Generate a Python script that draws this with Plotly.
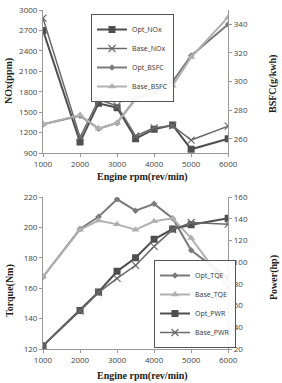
import plotly.graph_objects as go
from plotly.subplots import make_subplots

rpm = [1000, 2000, 2500, 3000, 3500, 4000, 4500, 5000, 6000]

opt_nox = [2700, 1060, 1630, 1565, 1110, 1250, 1310, 955, 1110]
base_nox = [2880, 1130, 1680, 1595, 1150, 1270, 1300, 1090, 1295]
opt_bsfc = [270, 276, 267, 271, 288, 292.5, 300, 318, 340]
base_bsfc = [270, 276.5, 267, 271, 287.5, 292, 297, 317, 345]

opt_tqe = [167.5, 199, 207, 218.5, 211, 215.5, 206, 185, 166.5]
base_tqe = [167.5, 198.5, 204.5, 202, 198.5, 204, 206, 193, 160]
opt_pwr = [23, 55.5, 72.5, 91.5, 104, 121, 130.5, 134.5, 140.5]
base_pwr = [23, 55, 72, 85, 97, 114.5, 130, 136.5, 135]

x_ticks = [1000, 2000, 3000, 4000, 5000, 6000]

fig = make_subplots(rows=2, cols=1, specs=[[{"secondary_y": True}], [{"secondary_y": True}]],
                    vertical_spacing=0.1)

c1, c2, c3, c4 = "#4f4f4f", "#6a6a6a", "#7a7a7a", "#b0b0b0"

fig.add_trace(go.Scatter(x=rpm, y=opt_nox, name="Opt_NOx", mode="lines+markers",
                         line=dict(color=c1, width=2), marker=dict(symbol="square", size=7, color=c1),
                         legend="legend"), row=1, col=1, secondary_y=False)
fig.add_trace(go.Scatter(x=rpm, y=base_nox, name="Base_NOx", mode="lines+markers",
                         line=dict(color=c2, width=1.5),
                         marker=dict(symbol="x-thin-open", size=7, line=dict(color=c2, width=1.2)),
                         legend="legend"), row=1, col=1, secondary_y=False)
fig.add_trace(go.Scatter(x=rpm, y=opt_bsfc, name="Opt_BSFC", mode="lines+markers",
                         line=dict(color=c3, width=2), marker=dict(symbol="diamond", size=5, color=c3),
                         legend="legend"), row=1, col=1, secondary_y=True)
fig.add_trace(go.Scatter(x=rpm, y=base_bsfc, name="Base_BSFC", mode="lines+markers",
                         line=dict(color=c4, width=2), marker=dict(symbol="triangle-up", size=7, color=c4),
                         legend="legend"), row=1, col=1, secondary_y=True)

fig.add_trace(go.Scatter(x=rpm, y=opt_tqe, name="Opt_TQE", mode="lines+markers",
                         line=dict(color=c3, width=2), marker=dict(symbol="diamond", size=5, color=c3),
                         legend="legend2"), row=2, col=1, secondary_y=False)
fig.add_trace(go.Scatter(x=rpm, y=base_tqe, name="Base_TQE", mode="lines+markers",
                         line=dict(color=c4, width=2), marker=dict(symbol="triangle-up", size=7, color=c4),
                         legend="legend2"), row=2, col=1, secondary_y=False)
fig.add_trace(go.Scatter(x=rpm, y=opt_pwr, name="Opt_PWR", mode="lines+markers",
                         line=dict(color=c1, width=2), marker=dict(symbol="square", size=7, color=c1),
                         legend="legend2"), row=2, col=1, secondary_y=True)
fig.add_trace(go.Scatter(x=rpm, y=base_pwr, name="Base_PWR", mode="lines+markers",
                         line=dict(color=c2, width=1.5),
                         marker=dict(symbol="x-thin-open", size=7, line=dict(color=c2, width=1.2)),
                         legend="legend2"), row=2, col=1, secondary_y=True)

tickfont = dict(family="Open Sans, sans-serif", size=8, color="#444")
titlefont = dict(family="Liberation Serif, serif", size=10, color="#222", weight="bold")
axcommon = dict(showgrid=False, zeroline=False, showline=True, linecolor="#999", linewidth=1,
                ticks="outside", ticklen=3, tickcolor="#999", tickfont=tickfont, automargin=False)

W, H = 282, 383
L, R, T, B = 43, 42, 10, 34
pw, ph = W - L - R, H - T - B
top_dom = [(349 - 153) / ph, 1.0]
bot_dom = [0.0, (349 - 197) / ph]

fig.update_xaxes(range=[1000, 6000], tickvals=x_ticks, **axcommon)
fig.update_yaxes(row=1, col=1, secondary_y=False, range=[900, 3000], dtick=300, domain=top_dom, **axcommon)
fig.update_yaxes(row=1, col=1, secondary_y=True, range=[250, 350], dtick=20, **axcommon)
fig.update_yaxes(row=2, col=1, secondary_y=False, range=[120, 220], dtick=20, domain=bot_dom, **axcommon)
fig.update_yaxes(row=2, col=1, secondary_y=True, range=[20, 160], dtick=20, **axcommon)
fig.layout.yaxis2.domain = top_dom
fig.layout.yaxis4.domain = bot_dom


def px(xp, yp):
    return (xp - L) / pw, (H - B - yp) / ph


annots = []
for text, xp, yp, ang in [
    ("Engine rpm(rev/min)", 142, 177, 0),
    ("Engine rpm(rev/min)", 142, 376, 0),
    ("NOx(ppm)", 9, 81, -90),
    ("BSFC(g/kwh)", 273, 84, -90),
    ("Torque(Nm)", 10, 291, -90),
    ("Power(hp)", 274, 278, -90),
]:
    xx, yy = px(xp, yp)
    annots.append(dict(text=text, x=xx, y=yy, xref="paper", yref="paper", showarrow=False,
                       textangle=ang, font=titlefont, xanchor="center", yanchor="middle"))

legfont = dict(family="Open Sans, sans-serif", size=7, color="#333")
lx1, ly1 = px(91, 14)
lx2, ly2 = px(236, 348)
fig.update_layout(
    width=W, height=H,
    margin=dict(l=L, r=R, t=T, b=B),
    paper_bgcolor="white", plot_bgcolor="white",
    annotations=annots,
    legend=dict(x=lx1, y=ly1, xanchor="left", yanchor="top",
                bordercolor="#555", borderwidth=1, bgcolor="rgba(255,255,255,0.9)", font=legfont,
                tracegroupgap=0, itemwidth=30),
    legend2=dict(x=lx2, y=ly2, xanchor="right", yanchor="bottom",
                 bordercolor="#555", borderwidth=1, bgcolor="rgba(255,255,255,0.9)", font=legfont,
                 tracegroupgap=0, itemwidth=30),
)

fig.write_html("out.html")
